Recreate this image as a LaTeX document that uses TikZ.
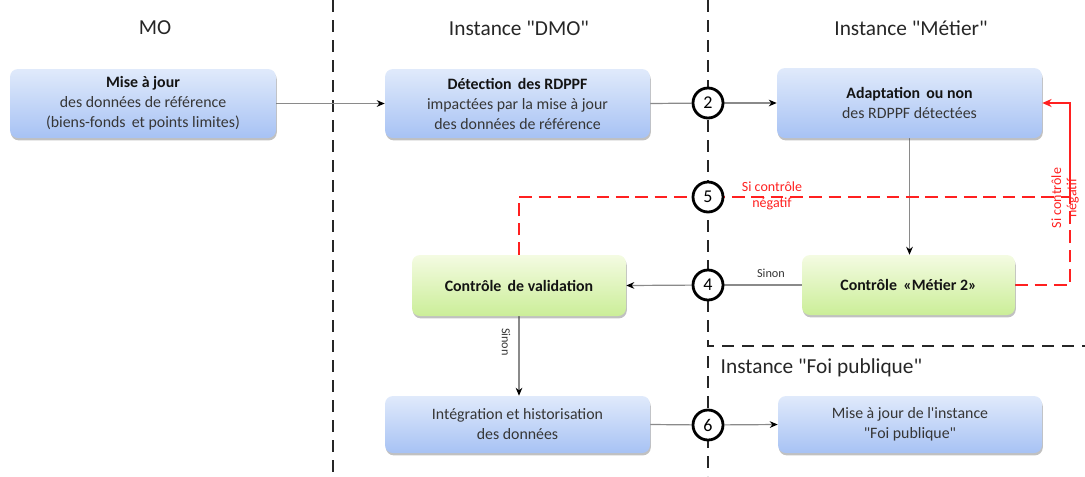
\documentclass[tikz,border=0pt]{standalone}
\usepackage{fontspec}
\setmainfont{Carlito}[Ligatures=TeXOff]
\usetikzlibrary{arrows.meta,shadows,calc}
\pgfdeclarelayer{background}
\pgfsetlayers{background,main}

\definecolor{boxtop}{HTML}{E0EAFB}
\definecolor{boxbot}{HTML}{A7C2F4}
\definecolor{gboxtop}{HTML}{F4FBE2}
\definecolor{gboxbot}{HTML}{CBEE98}
\definecolor{txt}{HTML}{363636}
\definecolor{ttl}{HTML}{141414}
\definecolor{conn}{HTML}{8A8A8A}
\definecolor{loopred}{HTML}{FF2020}

\tikzset{
  procbox/.style={rounded corners=6pt, align=center, text=txt,
    top color=boxtop, bottom color=boxbot, draw=none,
    drop shadow={shadow xshift=0.6pt, shadow yshift=-1.8pt, opacity=0.35, fill=black!70},
    font=\fontsize{11.9}{15}\selectfont},
  checkbox/.style={procbox, top color=gboxtop, bottom color=gboxbot},
  marker/.style={circle, draw=black, line width=2.1pt, fill=white,
    minimum size=22.5pt, inner sep=0pt, font=\fontsize{13.5}{15}\selectfont},
  header/.style={text=black!85, font=\fontsize{16}{18}\selectfont},
  flow/.style={draw=conn, line width=0.9pt, -{Stealth[color=black,length=6pt,width=5pt]}},
  flowplain/.style={draw=conn, line width=0.9pt},
  lane/.style={draw=black!85, line width=2pt, dash pattern=on 9pt off 6pt},
  redloop/.style={draw=loopred, line width=1.3pt, dash pattern=on 9.5pt off 5pt},
  redlabel/.style={text=loopred, align=center, font=\fontsize{10.5}{11.5}\selectfont},
  smalllabel/.style={text=txt, font=\fontsize{9.2}{11}\selectfont},
}

\begin{document}
\begin{tikzpicture}[x=0.75pt, y=-0.75pt]
\useasboundingbox (0,0) rectangle (1085,476);

% column headers
\node[header] (hmo)  at (155,28) {MO};
\node[header] (hdmo) at (519,28) {Instance "DMO"};
\node[header] (hmet) at (911,28) {Instance "Métier"};
\node[header, anchor=west] (hfoi) at (716,368) {Instance "Foi publique"};

% process steps
\node[procbox, minimum width=199.5pt, minimum height=51.75pt] (maj) at (143,103.5)
  {\textbf{\color{ttl}Mise à jour}\\des données de référence\\(biens-fonds\, et points limites)};
\node[procbox, minimum width=198.75pt, minimum height=51.75pt] (det) at (517.5,103.5)
  {\textbf{\color{ttl}Détection\, des RDPPF}\\impactées par la mise à jour\\des données de référence};
\node[procbox, minimum width=198.75pt, minimum height=52.5pt] (adp) at (909.5,103)
  {\textbf{\color{ttl}Adaptation\, ou non}\\des RDPPF détectées};
\node[checkbox, minimum width=159.75pt, minimum height=45pt] (cm2) at (908.5,285)
  {\textbf{\color{ttl}Contrôle\, «Métier 2»}};
\node[checkbox, minimum width=160.5pt, minimum height=45.75pt] (cval) at (519,285.5)
  {\textbf{\color{ttl}Contrôle\, de validation}};
\node[procbox, minimum width=198.75pt, minimum height=42.75pt] (integ) at (517.5,424.5)
  {Intégration et historisation\\des données};
\node[procbox, minimum width=198pt, minimum height=42.75pt] (foi) at (910,424.5)
  {Mise à jour de l'instance\\"Foi publique"};

% numbered markers on the lane boundary
\node[marker] (c2) at (708,103) {2};
\node[marker] (c5) at (708,197) {5};
\node[marker] (c4) at (708,285) {4};
\node[marker] (c6) at (708,425) {6};

\coordinate (redjoin) at (1070,197);

\begin{pgfonlayer}{background}
  % lane separators
  \draw[lane] (333,0) -- (333,476);
  \draw[lane] (708,0) -- (708,346) -- (1085,346);
  \draw[lane] (708,356) -- (708,476);

  % main flow
  \draw[flow] (maj.east) -- (det.west);
  \draw[flowplain] (det.east) -- (c2);
  \draw[flow] (c2) -- (adp.west);
  \draw[flow] (adp.south) -- (adp.south |- cm2.north);
  \draw[flowplain] (cm2.west) -- (c4);
  \draw[flow] (c4) -- (cval.east);
  \draw[flow] (cval.south) -- (cval.south |- integ.north);
  \draw[flowplain] (integ.east) -- (c6);
  \draw[flow] (c6) -- (foi.west);

  % negative check loops back to the adaptation step
  \draw[redloop] (cval.north) |- (redjoin);
  \draw[redloop] (cm2.east) -| (redjoin);
  \draw[draw=loopred, line width=1.3pt, -{Stealth[length=7pt,width=6pt]}]
    (redjoin) |- (adp.east);
\end{pgfonlayer}

% connector labels
\node[smalllabel] (sinon1) at (771,273) {Sinon};
\node[smalllabel, rotate=-90] (sinon2) at (506,342) {Sinon};
\node[redlabel] (neg1) at (772,196) {Si contrôle\\négatif};
\node[redlabel, rotate=90] (neg2) at (1065,198) {Si contrôle\\négatif};
\end{tikzpicture}
\end{document}
